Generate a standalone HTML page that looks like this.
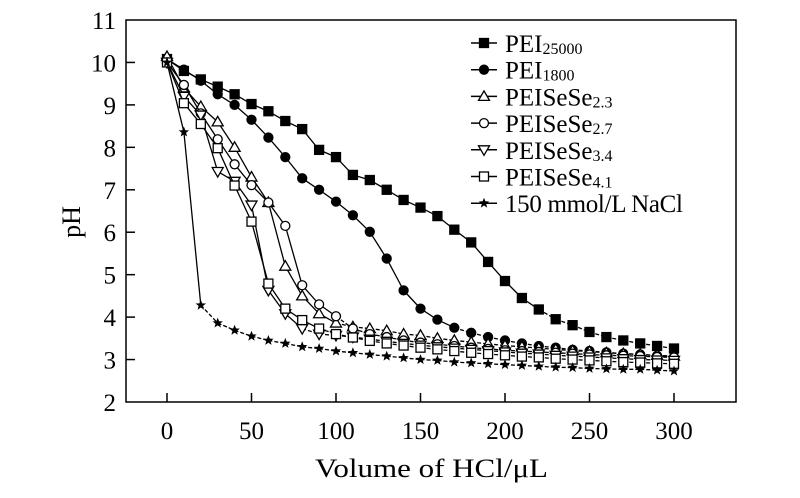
<!DOCTYPE html>
<html><head><meta charset="utf-8"><style>
body{margin:0;background:#fff}
svg text{font-family:"Liberation Serif",serif;fill:#000}
</style></head><body>
<svg id="c" width="800" height="493" xmlns="http://www.w3.org/2000/svg"></svg>
<script>
const xVals=[0,10,20,30,40,50,60,70,80,90,100,110,120,130,140,150,160,170,180,190,200,210,220,230,240,250,260,270,280,290,300];
const pei25000=[10.08,9.8,9.6,9.43,9.25,9.02,8.85,8.62,8.43,7.94,7.77,7.35,7.23,7.0,6.76,6.58,6.38,6.06,5.76,5.3,4.85,4.45,4.18,3.95,3.81,3.65,3.53,3.45,3.38,3.32,3.26];
const pei1800=[10.08,9.83,9.57,9.25,9.0,8.65,8.23,7.77,7.27,7.0,6.72,6.4,6.01,5.38,4.63,4.2,3.94,3.75,3.63,3.53,3.45,3.38,3.32,3.28,3.23,3.2,3.17,3.14,3.12,3.09,3.06];
const se23=[10.14,9.4,8.96,8.6,8.0,7.3,6.7,5.2,4.5,4.08,3.86,3.77,3.73,3.68,3.6,3.57,3.5,3.45,3.41,3.37,3.33,3.3,3.27,3.24,3.21,3.19,3.16,3.14,3.12,3.1,3.08];
const se27=[10.0,9.47,8.8,8.19,7.6,7.11,6.7,6.15,4.75,4.3,4.02,3.73,3.6,3.53,3.45,3.4,3.36,3.32,3.28,3.25,3.22,3.2,3.18,3.16,3.14,3.12,3.1,3.09,3.08,3.06,3.05];
const se34=[10.0,9.2,8.76,7.43,7.2,6.64,4.63,4.08,3.73,3.6,3.57,3.53,3.48,3.43,3.38,3.34,3.3,3.27,3.24,3.21,3.18,3.15,3.13,3.1,3.08,3.06,3.04,3.02,3.0,2.99,2.98];
const se41=[10.0,9.04,8.55,7.98,7.1,6.25,4.79,4.2,3.93,3.73,3.6,3.52,3.44,3.38,3.33,3.28,3.24,3.2,3.16,3.13,3.1,3.07,3.05,3.02,3.0,2.98,2.96,2.94,2.93,2.91,2.9];
const nacl=[10.0,8.36,4.28,3.86,3.69,3.55,3.45,3.38,3.3,3.26,3.2,3.16,3.12,3.08,3.04,3.0,2.98,2.94,2.92,2.9,2.88,2.86,2.84,2.82,2.81,2.79,2.78,2.77,2.77,2.75,2.73];
const xTicks=[0,50,100,150,200,250,300];
const yTicks=[2,3,4,5,6,7,8,9,10,11];
const seriesNames=["PEI","PEI","PEISeSe","PEISeSe","PEISeSe","PEISeSe","150 mmol/L NaCl"];
const seriesSubs=["25000","1800","2.3","2.7","3.4","4.1",""];
const NS="http://www.w3.org/2000/svg";
const svg=document.getElementById('c');
const L=126,R=736,T=20,B=402;
const xs=v=>167+v*(674-167)/300;
const ys=v=>B-(v-2)*(B-T)/9;
function mk(tag,attrs,parent){const e=document.createElementNS(NS,tag);for(const k in attrs)e.setAttribute(k,attrs[k]);(parent||svg).appendChild(e);return e;}
const frame=mk('rect',{x:L,y:T,width:R-L,height:B-T,fill:'none',stroke:'#000','stroke-width':1.5});


xTicks.forEach(t=>{
 const l=mk('line',{x1:xs(t),x2:xs(t),y1:B,y2:B-9,stroke:'#000','stroke-width':1.5});
 
 
 const tx=mk('text',{x:xs(t),y:B+37,'text-anchor':'middle','font-size':25});tx.textContent=t;
 
 
});
yTicks.forEach(t=>{
 if(t>2&&t<11){const l=mk('line',{x1:L,x2:L+9,y1:ys(t),y2:ys(t),stroke:'#000','stroke-width':1.5});
 
 }
 const tx=mk('text',{x:L-10,y:ys(t)+9,'text-anchor':'end','font-size':25});tx.textContent=t;
 
 
});
const xt=mk('text',{x:315,y:477,'font-size':26,textLength:233,lengthAdjust:'spacingAndGlyphs'});xt.textContent='Volume of HCl/μL';


const yt=mk('text',{x:0,y:0,'text-anchor':'middle','font-size':26,transform:'translate(80,222) rotate(-90)'});yt.textContent='pH';


function marker(g,type,x,y){
 const s=4.5;let e;
 if(type==='sq'||type==='osq')e=mk('rect',{x:x-s,y:y-s,width:2*s,height:2*s,fill:type==='sq'?'#000':'#fff',stroke:'#000','stroke-width':1.3},g);
 else if(type==='ci'||type==='oci')e=mk('circle',{cx:x,cy:y,r:s,fill:type==='ci'?'#000':'#fff',stroke:'#000','stroke-width':1.3},g);
 else if(type==='tu')e=mk('polygon',{points:`${x},${y-5.5} ${x-5.5},${y+4} ${x+5.5},${y+4}`,fill:'#fff',stroke:'#000','stroke-width':1.3},g);
 else if(type==='td')e=mk('polygon',{points:`${x},${y+5.5} ${x-5.5},${y-4} ${x+5.5},${y-4}`,fill:'#fff',stroke:'#000','stroke-width':1.3},g);
 else{let p=[];for(let i=0;i<10;i++){const r=i%2?2.3:5.5,a=-Math.PI/2+i*Math.PI/5;p.push((x+r*Math.cos(a)).toFixed(1)+','+(y+r*Math.sin(a)).toFixed(1));}
  e=mk('polygon',{points:p.join(' '),fill:'#000'},g);}
 
 
}
const series=[[pei25000,'sq',22],[pei1800,'ci',17],[se23,'tu',10],[se27,'oci',10],[se34,'td',8],[se41,'osq',9],[nacl,'st',2]];
series.forEach((s,si)=>{
 const g=mk('g',{});
 
 
 const [d,type,dashFrom]=s;
 for(let i=0;i<d.length-1;i++){
  const l=mk('line',{x1:xs(xVals[i]),y1:ys(d[i]),x2:xs(xVals[i+1]),y2:ys(d[i+1]),stroke:'#000','stroke-width':1.3},g);
  if(i>=dashFrom)l.setAttribute('stroke-dasharray','4,2');
 }
 d.forEach((v,i)=>marker(g,type,xs(xVals[i]),ys(v)));
 const ly=43+si*26.7;
 const lg=mk('g',{});
 
 
 mk('line',{x1:471,x2:497,y1:ly,y2:ly,stroke:'#000','stroke-width':1.5},lg);
 marker(lg,type,484,ly);
 const t=mk('text',{x:505,y:ly+9,'font-size':25},lg);
 t.textContent=seriesNames[si];
 if(seriesSubs[si]){const ts=mk('tspan',{'font-size':16,dy:2},t);ts.textContent=seriesSubs[si];}
 if(si===6)t.setAttribute('textLength',178);
});
</script>
</body></html>
